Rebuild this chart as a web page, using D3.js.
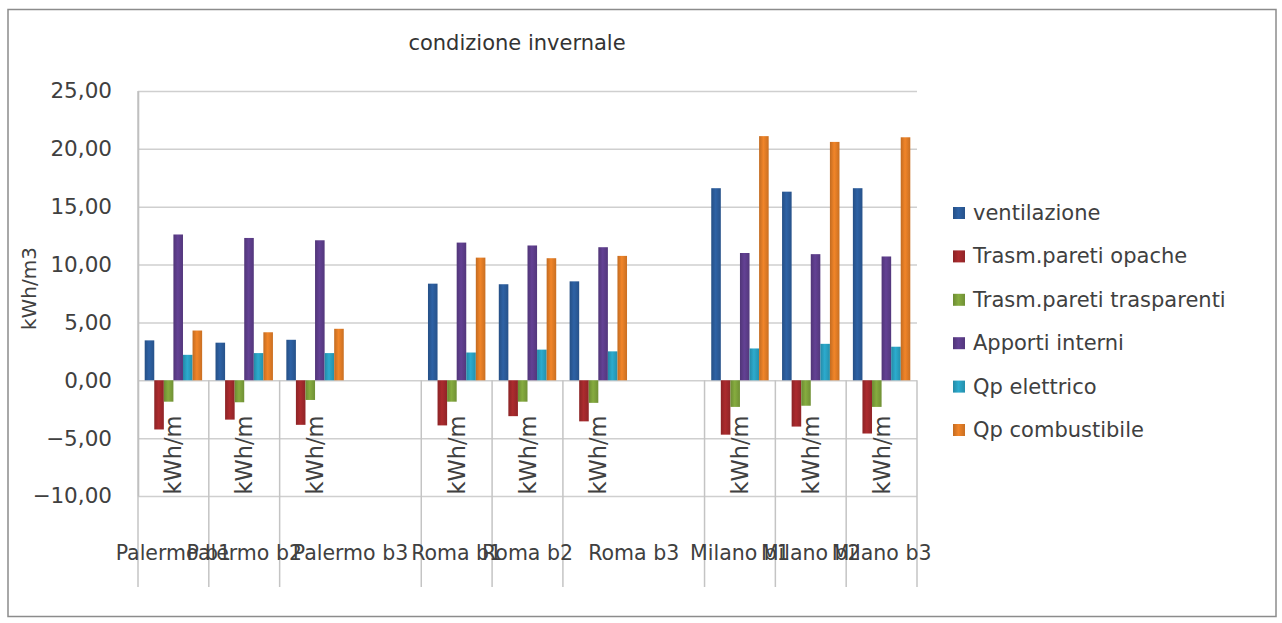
<!DOCTYPE html>
<html>
<head>
<meta charset="utf-8">
<script src="https://cdn.jsdelivr.net/npm/d3@7"></script>
<style>
  html, body { margin: 0; padding: 0; background: #ffffff; }
  svg { display: block; font-family: 'DejaVu Sans', sans-serif; }
</style>
</head>
<body>
<svg id="chart" width="1282" height="623"></svg>
<script>
// ---- data ----
const title = "condizione invernale";
const yTitle = "kWh/m3";
const unitLabel = "kWh/m";
const categories = ["Palermo b1", "Palermo b2", "Palermo b3", "", "Roma b1", "Roma b2", "Roma b3", "", "Milano b1", "Milano b2", "Milano b3"];
const seriesNames = ["ventilazione", "Trasm.pareti opache", "Trasm.pareti trasparenti", "Apporti interni", "Qp elettrico", "Qp combustibile"];
const seriesColors = ["#2c5d9c", "#a3292c", "#7fa33c", "#5e3e8c", "#2aa2c3", "#e47e27"];
const ventilazione = [3.45, 3.25, 3.5, null, 8.35, 8.3, 8.55, null, 16.6, 16.3, 16.6];
const paretiOpache = [-4.25, -3.4, -3.85, null, -3.9, -3.1, -3.55, null, -4.7, -4.0, -4.6];
const paretiTrasparenti = [-1.85, -1.9, -1.7, null, -1.85, -1.85, -1.95, null, -2.3, -2.2, -2.3];
const apportiInterni = [12.6, 12.3, 12.1, null, 11.9, 11.65, 11.5, null, 11.0, 10.9, 10.7];
const qpElettrico = [2.2, 2.35, 2.35, null, 2.4, 2.65, 2.5, null, 2.75, 3.15, 2.9];
const qpCombustibile = [4.3, 4.15, 4.45, null, 10.6, 10.55, 10.75, null, 21.1, 20.6, 21.0];
const yTicks = [-10, -5, 0, 5, 10, 15, 20, 25];

const seriesValues = [ventilazione, paretiOpache, paretiTrasparenti, apportiInterni, qpElettrico, qpCombustibile];

// ---- layout ----
const svg = d3.select("#chart");
const W = 1282, H = 623;
const plot = { left: 138, right: 917, top: 91, bottom: 496 };
const dividerBottom = 587;

svg.append("rect").attr("x", 0).attr("y", 0).attr("width", W).attr("height", H).attr("fill", "#ffffff");
svg.append("rect").attr("x", 8).attr("y", 9.5).attr("width", 1268).attr("height", 607)
  .attr("fill", "#ffffff").attr("stroke", "#8c8c8c").attr("stroke-width", 1.5);

const y = d3.scaleLinear().domain([-10, 25]).range([plot.bottom, plot.top]);
const x = d3.scaleBand().domain(d3.range(categories.length)).range([plot.left, plot.right]).paddingInner(0).paddingOuter(0);
const xs = d3.scaleBand().domain(d3.range(seriesNames.length)).range([0, x.bandwidth()]).paddingInner(0).paddingOuter(0.7);

const locale = d3.formatLocale({ decimal: ",", thousands: ".", grouping: [3], currency: ["", "€"] });
const fmt = locale.format(".2f");

// gridlines via axis
const grid = svg.append("g").attr("transform", `translate(${plot.left},0)`)
  .call(d3.axisLeft(y).tickValues(yTicks).tickSize(-(plot.right - plot.left)).tickFormat(""));
grid.select(".domain").remove();
grid.selectAll(".tick line").attr("stroke", "#cfcfcf").attr("stroke-width", 1.5);

// y axis labels
const yAxis = svg.append("g").attr("transform", `translate(${plot.left},0)`)
  .call(d3.axisLeft(y).tickValues(yTicks).tickSize(0).tickPadding(26).tickFormat(fmt));
yAxis.select(".domain").attr("stroke", "#b5b5b5").attr("stroke-width", 1.5);
yAxis.selectAll("text").attr("font-size", 21.5).attr("fill", "#404040").attr("font-family", "'DejaVu Sans', sans-serif");

// gradients for bars
const defs = svg.append("defs");
seriesColors.forEach((c, i) => {
  const g = defs.append("linearGradient").attr("id", "grad" + i).attr("x1", "0").attr("x2", "1").attr("y1", "0").attr("y2", "0");
  const base = d3.color(c);
  g.append("stop").attr("offset", "0%").attr("stop-color", base.darker(0.45));
  g.append("stop").attr("offset", "45%").attr("stop-color", base.brighter(0.15));
  g.append("stop").attr("offset", "100%").attr("stop-color", base.darker(0.35));
});

// bars
seriesValues.forEach((vals, si) => {
  svg.append("g").selectAll("rect")
    .data(vals.map((v, ci) => ({ v, ci })).filter(d => d.v !== null))
    .join("rect")
    .attr("x", d => x(d.ci) + xs(si))
    .attr("width", xs.bandwidth())
    .attr("y", d => y(Math.max(0, d.v)))
    .attr("height", d => Math.abs(y(d.v) - y(0)))
    .attr("fill", `url(#grad${si})`);
});

// category dividers (multi-level axis)
const groupStarts = categories.map((c, i) => c !== "" ? i : null).filter(i => i !== null);
const groups = groupStarts.map((s, k) => ({ label: categories[s], start: s, end: k + 1 < groupStarts.length ? groupStarts[k + 1] : categories.length }));
const divX = groups.map(g => x(g.start)).concat([plot.right]);
svg.append("g").selectAll("line").data(divX).join("line")
  .attr("x1", d => d).attr("x2", d => d)
  .attr("y1", d => d === plot.left ? plot.top : y(0)).attr("y2", dividerBottom)
  .attr("stroke", "#c4c4c4").attr("stroke-width", 1.5);

// level-1 labels "kWh/m"
svg.append("g").selectAll("text").data(groupStarts).join("text")
  .attr("transform", i => `translate(${x(i) + x.bandwidth() / 2 + 8},455) rotate(-90)`)
  .attr("text-anchor", "middle")
  .attr("font-size", 22.5).attr("fill", "#404040")
  .text(unitLabel);

// level-2 labels
svg.append("g").selectAll("text").data(groups).join("text")
  .attr("x", g => (x(g.start) + x(g.end - 1) + x.bandwidth()) / 2)
  .attr("y", 553)
  .attr("text-anchor", "middle").attr("dominant-baseline", "central")
  .attr("font-size", 20.5).attr("fill", "#404040")
  .text(g => g.label);

// y title
svg.append("text")
  .attr("transform", `translate(36,${(plot.top + plot.bottom) / 2 - 5}) rotate(-90)`)
  .attr("text-anchor", "middle")
  .attr("font-size", 20).attr("fill", "#404040")
  .text(yTitle);

// title
svg.append("text")
  .attr("x", 517).attr("y", 43)
  .attr("text-anchor", "middle").attr("dominant-baseline", "central")
  .attr("font-size", 21).attr("fill", "#333333")
  .text(title);

// legend
const legend = svg.append("g");
const legY = d3.scalePoint().domain(d3.range(seriesNames.length)).range([213, 430]);
seriesNames.forEach((name, i) => {
  legend.append("rect").attr("x", 953).attr("y", legY(i) - 6).attr("width", 12).attr("height", 12)
    .attr("fill", `url(#grad${i})`);
  legend.append("text").attr("x", 973).attr("y", legY(i))
    .attr("dominant-baseline", "central").attr("font-size", 21).attr("fill", "#404040")
    .text(name);
});
</script>
</body>
</html>
